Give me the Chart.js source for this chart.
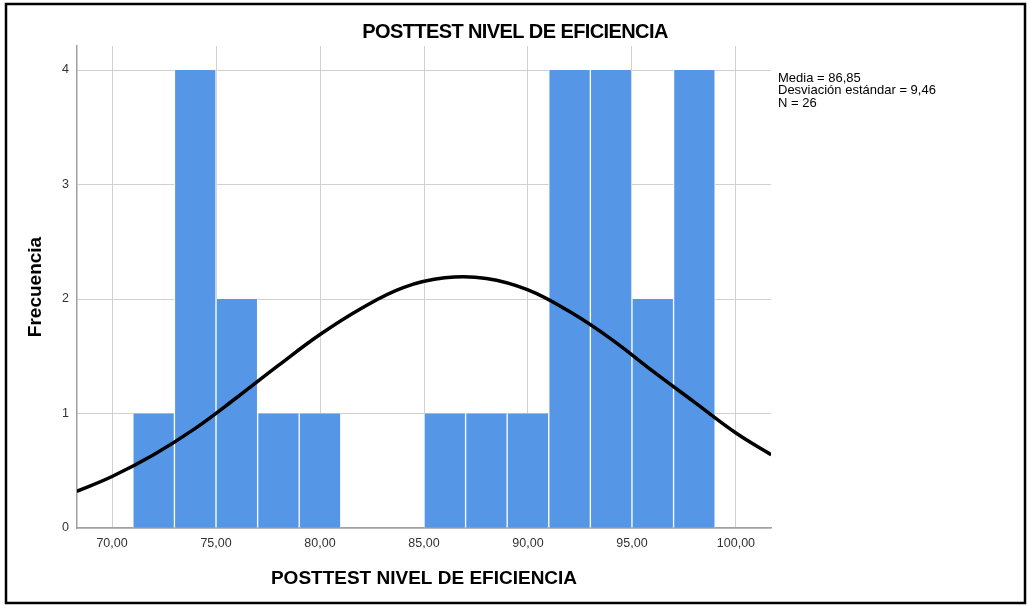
<!DOCTYPE html>
<html>
<head>
    <title>POSTTEST NIVEL DE EFICIENCIA</title>
    <style>
        body {
            margin: 0;
            padding: 0;
            background-color: #fff;
        }

        .chart-box {
            position: relative;
            width: 1028px;
            height: 606px;
        }
    </style>
</head>
<body>
<div class="chart-box">
    <canvas id="histograma" width="1028" height="606"></canvas>
</div>

<script src="https://cdn.jsdelivr.net/npm/chart.js@4.4.1/dist/chart.umd.min.js"></script>
<script>
    // centros de cada intervalo (ancho 2) y frecuencias
    const centros = [72, 74, 76, 78, 80, 82, 84, 86, 88, 90, 92, 94, 96, 98];
    const frecuencias = [1, 4, 2, 1, 1, 0, 0, 1, 1, 1, 4, 4, 2, 4];

    // curva normal
    const curvaX = [68.3, 70, 72, 74, 76, 78, 80, 82, 84, 86, 88, 90, 92, 94, 96, 98, 100, 101.7];
    const curvaY = [0.32, 0.45, 0.64, 0.87, 1.14, 1.42, 1.69, 1.92, 2.10, 2.185, 2.18, 2.08, 1.89, 1.65, 1.37, 1.10, 0.83, 0.64];

    const ticksX = [70, 75, 80, 85, 90, 95, 100];
    const ticksY = [0, 1, 2, 3, 4];

    const titulo = 'POSTTEST NIVEL DE EFICIENCIA';
    const estadisticos = ['Media = 86,85', 'Desviación estándar = 9,46', 'N = 26'];

    const textosPlugin = {
        id: 'textos',
        afterDraw(chart) {
            const ctx = chart.ctx;
            ctx.save();
            // marco exterior
            ctx.strokeStyle = '#000';
            ctx.lineWidth = 2.5;
            ctx.strokeRect(6, 4, 1019, 599);

            // titulo
            ctx.fillStyle = '#000';
            ctx.font = 'bold 20px "Liberation Sans", Arial, sans-serif';
            ctx.letterSpacing = '-0.6px';
            ctx.textAlign = 'center';
            ctx.textBaseline = 'alphabetic';
            ctx.fillText(titulo, 515, 38);

            // estadisticos
            ctx.letterSpacing = '0px';
            ctx.font = '13px "Liberation Sans", Arial, sans-serif';
            ctx.textAlign = 'left';
            ctx.textBaseline = 'middle';
            estadisticos.forEach((t, i) => {
                ctx.fillText(t, 778, 78 + i * 12.5);
            });
            ctx.restore();
        }
    };

    const ctx = document.getElementById('histograma');

    new Chart(ctx, {
        type: 'bar',
        data: {
            datasets: [{
                type: 'line',
                data: curvaX.map((x, i) => ({x: x, y: curvaY[i]})),
                borderColor: '#000',
                borderWidth: 3.5,
                pointRadius: 0,
                tension: 0.4,
                fill: false,
                order: 0
            }, {
                type: 'bar',
                data: centros.map((c, i) => ({x: c, y: frecuencias[i]})),
                backgroundColor: '#5596e6',
                borderColor: '#ffffff',
                borderWidth: {left: 1, right: 1, top: 0, bottom: 0},
                borderSkipped: false,
                barPercentage: 1,
                categoryPercentage: 1,
                order: 1
            }]
        },
        options: {
            responsive: false,
            animation: false,
            devicePixelRatio: 1,
            layout: {
                padding: {left: 0, top: 46, right: 257, bottom: 0}
            },
            plugins: {
                legend: {display: false},
                tooltip: {enabled: false},
                title: {display: false}
            },
            scales: {
                x: {
                    type: 'linear',
                    min: 68.315,
                    max: 101.685,
                    offset: false,
                    afterBuildTicks: s => { s.ticks = ticksX.map(v => ({value: v})); },
                    afterFit: s => { s.height = 78; },
                    grid: {
                        color: '#d0d0d0',
                        drawTicks: false,
                        offset: false
                    },
                    border: {color: '#a0a0a0', width: 1.5},
                    ticks: {
                        padding: 8,
                        color: '#333',
                        font: {family: '"Liberation Sans", Arial, sans-serif', size: 12.5},
                        callback: v => v.toFixed(2).replace('.', ','),
                        maxRotation: 0
                    },
                    title: {
                        display: true,
                        text: titulo,
                        color: '#000',
                        padding: {top: 0, bottom: 16},
                        font: {family: '"Liberation Sans", Arial, sans-serif', size: 19, weight: 'bold'}
                    }
                },
                y: {
                    min: 0,
                    max: 4.21,
                    afterBuildTicks: s => { s.ticks = ticksY.map(v => ({value: v})); },
                    afterFit: s => { s.width = 77; },
                    grid: {
                        color: '#d0d0d0',
                        drawTicks: false
                    },
                    border: {color: '#a0a0a0', width: 1.5},
                    ticks: {
                        padding: 8,
                        color: '#333',
                        font: {family: '"Liberation Sans", Arial, sans-serif', size: 12.5}
                    },
                    title: {
                        display: true,
                        text: 'Frecuencia',
                        color: '#000',
                        padding: {top: 24, bottom: 0},
                        font: {family: '"Liberation Sans", Arial, sans-serif', size: 19, weight: 'bold'}
                    }
                }
            }
        },
        plugins: [textosPlugin]
    });
</script>
</body>
</html>
